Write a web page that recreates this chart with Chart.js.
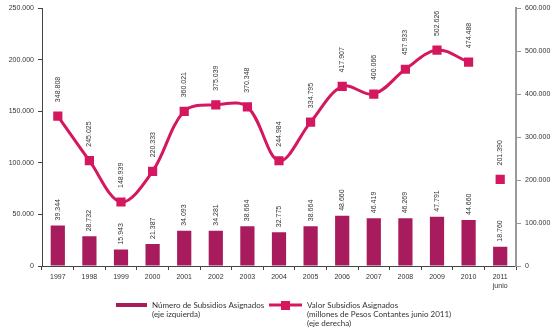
<!DOCTYPE html>
<html>
<head>
<meta charset="utf-8">
<script src="https://cdn.jsdelivr.net/npm/chart.js@4"></script>
<style>
  html, body { margin: 0; padding: 0; background: #fff; }
  #wrap { width: 560px; height: 332px; position: relative; }
</style>
</head>
<body>
<div id="wrap"><canvas id="chart" width="560" height="332"></canvas></div>
<script>
// categorias (años)
const years = ['1997', '1998', '1999', '2000', '2001', '2002', '2003', '2004', '2005',
  '2006', '2007', '2008', '2009', '2010', ['2011', 'junio']];

// Número de subsidios asignados (eje izquierda)
const numSubsidios = [39344, 28732, 15943, 21387, 34093, 34281, 38664, 32775, 38664,
  48660, 46419, 46269, 47791, 44660, 18760];

// Valor subsidios asignados (millones de pesos, eje derecha) - 1997 a 2010
const valorSubsidios = [348808, 245025, 148939, 220333, 360021, 375039, 370348, 244984,
  334795, 417907, 400066, 457933, 502626, 474488, null];

// 2011 junio va suelto, sin línea
const valor2011 = [null, null, null, null, null, null, null, null, null, null, null, null,
  null, null, 201390];

const leftTicks = [0, 50000, 100000, 150000, 200000, 250000];
const rightTicks = [0, 100000, 200000, 300000, 400000, 500000, 600000];

const legendBar = ['Número de Subsidios Asignados', '(eje izquierda)'];
const legendLine = ['Valor Subsidios Asignados', '(millones de Pesos Contantes junio 2011)', '(eje derecha)'];

const barColor = '#a81c5e';
const lineColor = '#d5175f';
const textColor = '#333';

function fmt(n) {
  return String(n).replace(/\B(?=(\d{3})+(?!\d))/g, '.');
}

// etiquetas verticales sobre barras y puntos
const rotatedLabels = {
  id: 'rotatedLabels',
  afterDatasetsDraw(chart) {
    const ctx = chart.ctx;
    ctx.save();
    ctx.font = '7px "Liberation Sans", sans-serif';
    ctx.fillStyle = textColor;
    ctx.textAlign = 'left';
    ctx.textBaseline = 'middle';
    chart.data.datasets.forEach((ds, i) => {
      const meta = chart.getDatasetMeta(i);
      const gap = ds.type === 'bar' ? 5 : 14;
      meta.data.forEach((el, j) => {
        const v = ds.data[j];
        if (v === null || v === undefined) return;
        ctx.save();
        ctx.translate(el.x, el.y - gap);
        ctx.rotate(-Math.PI / 2);
        ctx.fillText(fmt(v), 0, 0);
        ctx.restore();
      });
    });
    ctx.restore();
  }
};

// leyenda abajo
const bottomLegend = {
  id: 'bottomLegend',
  afterDraw(chart) {
    const ctx = chart.ctx;
    ctx.save();
    ctx.font = '8px Lato, sans-serif';
    ctx.fillStyle = textColor;
    ctx.textBaseline = 'middle';

    ctx.strokeStyle = barColor;
    ctx.lineWidth = 4;
    ctx.beginPath();
    ctx.moveTo(116, 305);
    ctx.lineTo(147, 305);
    ctx.stroke();
    legendBar.forEach((t, k) => ctx.fillText(t, 152, 305 + k * 9));

    ctx.strokeStyle = lineColor;
    ctx.lineWidth = 3;
    ctx.beginPath();
    ctx.moveTo(269, 305);
    ctx.lineTo(302, 305);
    ctx.stroke();
    ctx.fillStyle = lineColor;
    ctx.fillRect(281, 301, 9, 9);
    ctx.fillStyle = textColor;
    legendLine.forEach((t, k) => ctx.fillText(t, 307, 305 + k * 9));
    ctx.restore();
  }
};

const tickFont = { family: 'Liberation Sans', size: 7 };

new Chart(document.getElementById('chart'), {
  data: {
    labels: years,
    datasets: [
      {
        type: 'line',
        label: legendLine.join(' '),
        data: valorSubsidios,
        yAxisID: 'y2',
        borderColor: lineColor,
        backgroundColor: lineColor,
        borderWidth: 3,
        tension: 0.35,
        pointStyle: 'rect',
        pointRadius: 6.5,
        pointBorderWidth: 0,
        pointHoverRadius: 6.5,
        spanGaps: false,
        order: 1
      },
      {
        type: 'line',
        label: '2011',
        data: valor2011,
        yAxisID: 'y2',
        showLine: false,
        borderColor: lineColor,
        backgroundColor: lineColor,
        pointStyle: 'rect',
        pointRadius: 6.5,
        pointBorderWidth: 0,
        order: 1
      },
      {
        type: 'bar',
        label: legendBar.join(' '),
        data: numSubsidios,
        yAxisID: 'y',
        backgroundColor: barColor,
        barPercentage: 0.45,
        categoryPercentage: 1,
        order: 2
      }
    ]
  },
  options: {
    responsive: false,
    animation: false,
    layout: { padding: { top: 7, left: 0, right: 0, bottom: 0 } },
    plugins: { legend: { display: false }, tooltip: { enabled: false } },
    scales: {
      x: {
        offset: true,
        grid: { offset: true, drawOnChartArea: false, drawTicks: true, tickLength: 4, color: '#444' },
        border: { display: true, color: '#444', width: 1 },
        ticks: { color: textColor, font: tickFont, padding: 3, maxRotation: 0, autoSkip: false },
        afterFit(scale) { scale.height = 66; }
      },
      y: {
        position: 'left',
        min: 0,
        max: 250000,
        afterBuildTicks(scale) { scale.ticks = leftTicks.map(v => ({ value: v })); },
        grid: { drawOnChartArea: false, drawTicks: true, tickLength: 4, color: '#444' },
        border: { display: true, color: '#444', width: 1 },
        ticks: { color: textColor, font: tickFont, padding: 4, callback: v => fmt(v) },
        afterFit(scale) { scale.width = 42; }
      },
      y2: {
        position: 'right',
        min: 0,
        max: 600000,
        afterBuildTicks(scale) { scale.ticks = rightTicks.map(v => ({ value: v })); },
        grid: { drawOnChartArea: false, drawTicks: true, tickLength: 5, color: '#999' },
        border: { display: true, color: '#999', width: 2 },
        ticks: { color: textColor, font: tickFont, padding: 4, callback: v => fmt(v) },
        afterFit(scale) { scale.width = 44; }
      }
    }
  },
  plugins: [rotatedLabels, bottomLegend]
});
</script>
</body>
</html>
